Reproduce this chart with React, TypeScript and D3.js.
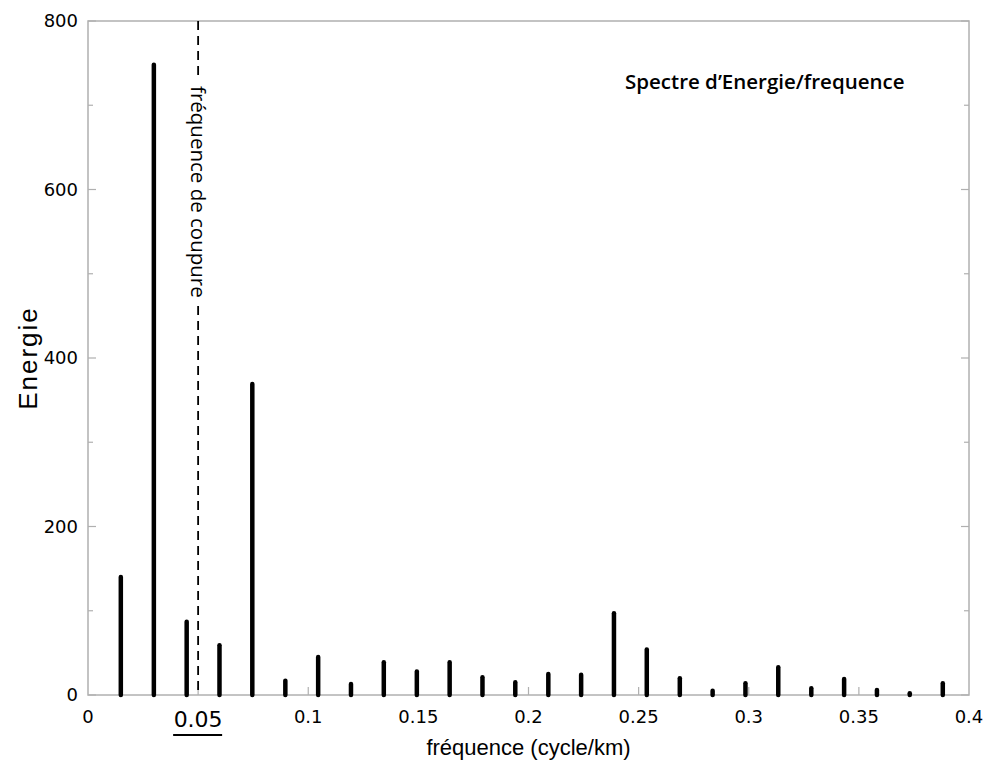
import React from "react";
import * as d3 from "d3";

const frequencies = [
  0.0149, 0.0299, 0.0448, 0.0597, 0.0746, 0.0896, 0.1045, 0.1194, 0.1343,
  0.1493, 0.1642, 0.1791, 0.194, 0.209, 0.2239, 0.2388, 0.2537, 0.2687,
  0.2836, 0.2985, 0.3134, 0.3284, 0.3433, 0.3582, 0.3731, 0.3881,
];
const energies = [
  140, 748, 87, 59, 369, 17, 45, 13, 39, 28, 39, 21, 15, 25, 24, 97, 54, 20,
  5, 14, 33, 8, 19, 6, 2, 14,
];
const xTicks = [0, 0.05, 0.1, 0.15, 0.2, 0.25, 0.3, 0.35, 0.4];
const xTickLabels = ["0", "0.05", "0.1", "0.15", "0.2", "0.25", "0.3", "0.35", "0.4"];
const yTicksMajor = [0, 200, 400, 600, 800];
const yTicksMinor = [100, 300, 500, 700];
const cutoff = 0.05;
const legendText = "Spectre d\u2019Energie/frequence";
const cutoffLabel = "fréquence de coupure";
const xLabel = "fréquence (cycle/km)";
const yLabel = "Energie";

const W = 986;
const H = 760;
const M = { left: 88, right: 969, top: 21, bottom: 695 };

export default function App() {
  const x = d3.scaleLinear().domain([0, 0.4]).range([M.left, M.right]);
  const y = d3.scaleLinear().domain([0, 800]).range([M.bottom, M.top]);
  const axisColor = "#b0b0b0";
  const tickFont = "'DejaVu Sans', Verdana, sans-serif";
  const cx = x(cutoff);
  return (
    <svg
      width={W}
      height={H}
      style={{ position: "absolute", left: 0, top: 0, background: "#fff" }}
    >
      {/* frame */}
      <rect
        x={M.left}
        y={M.top}
        width={M.right - M.left}
        height={M.bottom - M.top}
        fill="none"
        stroke={axisColor}
        strokeWidth={1.5}
      />
      {/* y ticks */}
      {yTicksMajor.map((v) => (
        <g key={"ym" + v}>
          <line x1={M.left} x2={M.left + 8} y1={y(v)} y2={y(v)} stroke={axisColor} strokeWidth={1.2} />
          <line x1={M.right} x2={M.right - 8} y1={y(v)} y2={y(v)} stroke={axisColor} strokeWidth={1.2} />
          <text
            x={M.left - 10}
            y={y(v)}
            dy="0.35em"
            textAnchor="end"
            fontFamily={tickFont}
            fontSize={18}
            fill="#000"
          >
            {v}
          </text>
        </g>
      ))}
      {yTicksMinor.map((v) => (
        <g key={"yn" + v}>
          <line x1={M.left} x2={M.left + 5} y1={y(v)} y2={y(v)} stroke={axisColor} strokeWidth={1.2} />
          <line x1={M.right} x2={M.right - 5} y1={y(v)} y2={y(v)} stroke={axisColor} strokeWidth={1.2} />
        </g>
      ))}
      {/* x ticks */}
      {xTicks.map((v, i) => (
        <g key={"x" + v}>
          {i > 0 && i < xTicks.length - 1 && (
            <line x1={x(v)} x2={x(v)} y1={M.bottom} y2={M.bottom - 8} stroke={axisColor} strokeWidth={1.2} />
          )}
          {v === cutoff ? (
            <g>
              <text
                x={x(v)}
                y={727}
                textAnchor="middle"
                fontFamily={tickFont}
                fontSize={22}
                fill="#000"
              >
                {xTickLabels[i]}
              </text>
              <line x1={x(v) - 25} x2={x(v) + 24} y1={735} y2={735} stroke="#000" strokeWidth={2} />
            </g>
          ) : (
            <text
              x={x(v)}
              y={723}
              textAnchor="middle"
              fontFamily={tickFont}
              fontSize={18}
              fill="#000"
            >
              {xTickLabels[i]}
            </text>
          )}
        </g>
      ))}
      {/* bars */}
      {frequencies.map((f, i) => (
        <line
          key={"b" + i}
          x1={x(f)}
          x2={x(f)}
          y1={y(0)}
          y2={y(energies[i])}
          stroke="#000"
          strokeWidth={4.5}
          strokeLinecap="round"
        />
      ))}
      {/* cutoff dashed line */}
      <line
        x1={cx}
        x2={cx}
        y1={M.top}
        y2={M.bottom}
        stroke="#000"
        strokeWidth={1.8}
        strokeDasharray="9 6"
      />
      <rect x={cx - 12} y={80} width={24} height={222} fill="#fff" />
      <text
        transform={`translate(${cx},${86}) rotate(90)`}
        dy="0.35em"
        textAnchor="start"
        fontFamily="'Open Sans', sans-serif"
        fontWeight={500}
        fontSize={20.5}
        fill="#000"
      >
        {cutoffLabel}
      </text>
      {/* legend */}
      <text
        x={625}
        y={89}
        fontFamily="'Open Sans', sans-serif"
        fontWeight={600}
        fontSize={20.5}
        fill="#000"
      >
        {legendText}
      </text>
      {/* axis labels */}
      <text
        x={(M.left + M.right) / 2}
        y={755}
        textAnchor="middle"
        fontFamily="'Liberation Sans', Arial, sans-serif"
        fontSize={22}
        fill="#000"
      >
        {xLabel}
      </text>
      <text
        transform={`translate(${37},${y(400)}) rotate(-90)`}
        textAnchor="middle"
        fontFamily="'Liberation Sans', Arial, sans-serif"
        fontSize={26}
        letterSpacing={2}
        fill="#000"
      >
        {yLabel}
      </text>
    </svg>
  );
}
